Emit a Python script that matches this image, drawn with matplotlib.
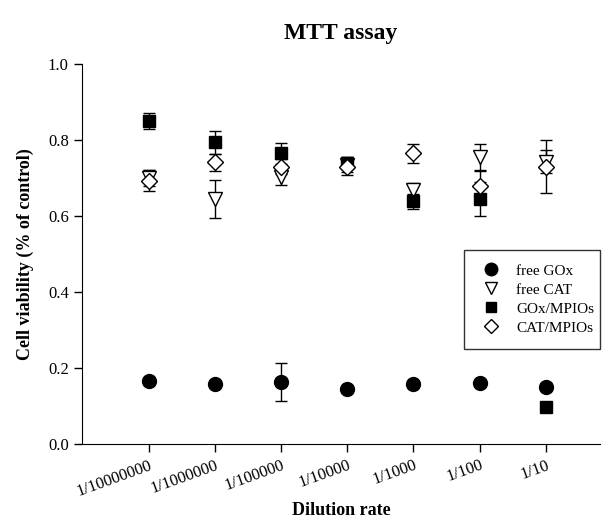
import numpy as np
import matplotlib.pyplot as plt

plt.rcParams['font.family'] = ['Liberation Serif', 'DejaVu Serif']

dilutions = ['1/10000000', '1/1000000', '1/100000', '1/10000', '1/1000', '1/100', '1/10']

gox_free = [0.165, 0.158, 0.162, 0.145, 0.158, 0.160, 0.150]
gox_free_err = [0.0, 0.0, 0.05, 0.0, 0.0, 0.0, 0.0]

cat_free = [0.700, 0.645, 0.702, 0.735, 0.668, 0.754, 0.743]
cat_free_err = [0.02, 0.05, 0.02, 0.02, 0.018, 0.035, 0.03]

gox_mpio = [0.850, 0.794, 0.765, 0.740, 0.639, 0.645, 0.098]
gox_mpio_err = [0.022, 0.03, 0.028, 0.015, 0.02, 0.045, 0.0]

cat_mpio = [0.693, 0.741, 0.730, 0.728, 0.765, 0.680, 0.730]
cat_mpio_err = [0.028, 0.023, 0.02, 0.02, 0.025, 0.04, 0.07]

x = np.arange(len(dilutions))

fig = plt.figure(figsize=(6.04, 5.24), dpi=100)
ax = fig.add_axes([82/604, 80/524, 518/604, 380/524])

eb = dict(ecolor='black', elinewidth=1, capsize=4.5, capthick=1, linestyle='none')
c1 = ax.errorbar(x, gox_free, yerr=gox_free_err, fmt='o', color='black', markersize=10, **eb)
c2 = ax.errorbar(x, cat_free, yerr=cat_free_err, fmt='v', markerfacecolor='white', markeredgecolor='black',
                 markersize=10, markeredgewidth=1, **eb)
c3 = ax.errorbar(x, gox_mpio, yerr=gox_mpio_err, fmt='s', color='black', markersize=8.5, **eb)
c4 = ax.errorbar(x, cat_mpio, yerr=cat_mpio_err, fmt='D', markerfacecolor='white', markeredgecolor='black',
                 markersize=8, markeredgewidth=1, **eb)

ax.set_xlim(-1.01, 6.82)
ax.set_ylim(0, 1.0)
ax.set_yticks([0.0, 0.2, 0.4, 0.6, 0.8, 1.0])
ax.set_yticklabels(['0.0', '0.2', '0.4', '0.6', '0.8', '1.0'], fontsize=12)
ax.set_xticks(x)
ax.set_xticklabels(dilutions, rotation=20, ha='right', rotation_mode='anchor', fontsize=12)
ax.tick_params(direction='out', length=6, width=1)
ax.spines['top'].set_visible(False)
ax.spines['right'].set_visible(False)

ax.set_xlabel('Dilution rate', fontsize=13, fontweight='bold', labelpad=2)
ax.set_ylabel('Cell viability (% of control)', fontsize=13, fontweight='bold', labelpad=10)
ax.set_title('MTT assay', fontsize=17, fontweight='bold', pad=18)

handles = [c1[0], c2[0], c3[0], c4[0]]
labels = ['free GOx', 'free CAT', 'GOx/MPIOs', 'CAT/MPIOs']
leg = ax.legend(handles, labels, loc='upper left', bbox_to_anchor=(0.737, 0.31, 0.263, 0.2),
                mode='expand', borderaxespad=0, frameon=True, fancybox=False,
                edgecolor='black', fontsize=11, handlelength=1.8, handletextpad=0.72,
                borderpad=0.9, labelspacing=0.35, markerscale=0.9)
leg.get_frame().set_linewidth(1)

fig.savefig('out.png', dpi=100)
